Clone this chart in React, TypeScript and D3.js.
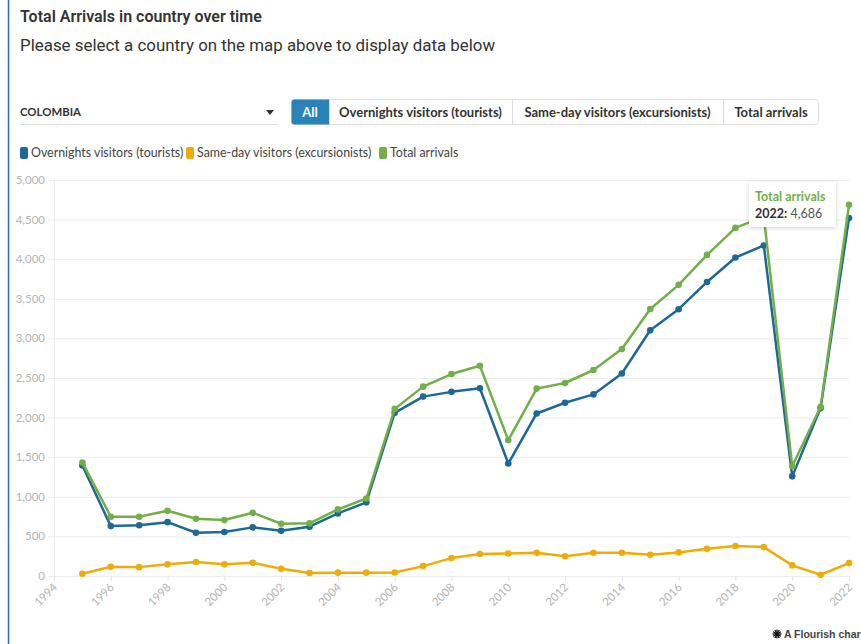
import React from "react";
import * as d3 from "d3";

const years = [1995, 1996, 1997, 1998, 1999, 2000, 2001, 2002, 2003, 2004, 2005, 2006, 2007, 2008, 2009, 2010, 2011, 2012, 2013, 2014, 2015, 2016, 2017, 2018, 2019, 2020, 2021, 2022];
const overnights = [1395, 630, 640, 680, 546, 555, 614, 570, 622, 790, 930, 2060, 2265, 2325, 2370, 1420, 2052, 2187, 2293, 2557, 3103, 3369, 3713, 4021, 4173, 1258, 2120, 4521];
const sameDay = [29, 117, 112, 147, 176, 147, 168, 92, 37, 42, 42, 45, 125, 226, 277, 285, 294, 248, 294, 294, 269, 298, 345, 378, 365, 134, 16, 163];
const totalArrivals = [1434, 748, 748, 823, 723, 706, 798, 660, 665, 841, 978, 2110, 2391, 2550, 2654, 1716, 2366, 2437, 2601, 2867, 3372, 3676, 4054, 4395, 4538, 1386, 2136, 4686];

const seriesNames = ["Overnights visitors (tourists)", "Same-day visitors (excursionists)", "Total arrivals"];
const seriesColors = ["#1D6996", "#EDAD08", "#73AF48"];
const yTicks = [0, 500, 1000, 1500, 2000, 2500, 3000, 3500, 4000, 4500, 5000];
const xTicks = [1994, 1996, 1998, 2000, 2002, 2004, 2006, 2008, 2010, 2012, 2014, 2016, 2018, 2020, 2022];
const buttons = ["All", "Overnights visitors (tourists)", "Same-day visitors (excursionists)", "Total arrivals"];

const FONT = "Lato, 'Source Sans Pro', sans-serif";

export default function App() {
  const x = d3.scaleLinear().domain([1994, 2022]).range([54, 849]);
  const y = d3.scaleLinear().domain([0, 5000]).range([576, 180]);
  const fmt = d3.format(",");
  const data = [overnights, sameDay, totalArrivals];
  const order = [1, 0, 2];
  const line = d3
    .line<number>()
    .x((_, i) => x(years[i]))
    .y((v) => y(v));

  const btnX = [291, 329, 512, 723, 819];
  const lastIdx = years.length - 1;

  return (
    <svg
      width={861}
      height={644}
      style={{ position: "absolute", left: 0, top: 0, background: "#fff" }}
      fontFamily={FONT}
    >
      <defs>
        <filter id="shadow" x="-20%" y="-30%" width="140%" height="160%">
          <feDropShadow dx="0" dy="1" stdDeviation="2" floodColor="#000" floodOpacity="0.18" />
        </filter>
      </defs>
      <rect x={0} y={0} width={861} height={644} fill="#fff" />
      <line x1={8.5} x2={8.5} y1={0} y2={644} stroke="#2b6cb8" strokeWidth={1.5} />

      <text x={20} y={22} fontFamily="Roboto, sans-serif" fontWeight={600} fontSize={16} fill="#333">
        Total Arrivals in country over time
      </text>
      <text x={20} y={51} fontFamily="Roboto, sans-serif" fontSize={16.9} fill="#333">
        Please select a country on the map above to display data below
      </text>

      {/* dropdown */}
      <text x={20} y={116} fontSize={11.4} fontWeight={700} fill="#333">
        COLOMBIA
      </text>
      <line x1={20} x2={278} y1={124.5} y2={124.5} stroke="#ddd" />
      <path d="M266,110 L274,110 L270,115 Z" fill="#333" />

      {/* buttons */}
      <rect x={291.5} y={99.5} width={527} height={25} rx={3} fill="#fff" stroke="#ddd" />
      {buttons.map((b, i) => (
        <g key={b}>
          {i === 0 ? (
            <path
              d={`M${btnX[0] + 3.5},99.5 L${btnX[1]},99.5 L${btnX[1]},124.5 L${btnX[0] + 3.5},124.5 Q${btnX[0] + 0.5},124.5 ${btnX[0] + 0.5},121.5 L${btnX[0] + 0.5},102.5 Q${btnX[0] + 0.5},99.5 ${btnX[0] + 3.5},99.5 Z`}
              fill="#2A83B8"
            />
          ) : (
            <line x1={btnX[i] + 0.5} x2={btnX[i] + 0.5} y1={100} y2={124} stroke="#ddd" />
          )}
          <text
            x={(btnX[i] + btnX[i + 1]) / 2}
            y={116.5}
            textAnchor="middle"
            fontSize={13}
            fontWeight={700}
            fill={i === 0 ? "#fff" : "#333"}
          >
            {b}
          </text>
        </g>
      ))}

      {/* legend */}
      {(() => {
        let lx = 20;
        const widths = [166, 193, 80];
        return seriesNames.map((n, i) => {
          const gx = lx;
          lx += widths[i];
          return (
            <g key={n}>
              <rect x={gx} y={147} width={8} height={12} rx={2} fill={seriesColors[i]} />
              <text x={gx + 11} y={157} fontSize={12.4} fill="#444">
                {n}
              </text>
            </g>
          );
        });
      })()}

      {/* grid */}
      {yTicks.map((t) => (
        <g key={t}>
          <line x1={48} x2={849} y1={y(t) + 0.5} y2={y(t) + 0.5} stroke="#ececec" />
          <text x={45} y={y(t) + 4} textAnchor="end" fontSize={11.5} fill="#b5b5b5">
            {fmt(t)}
          </text>
        </g>
      ))}
      <line x1={54.5} x2={54.5} y1={180} y2={581} stroke="#ececec" />
      {xTicks.map((t) => (
        <g key={t}>
          <line x1={x(t) + 0.5} x2={x(t) + 0.5} y1={576} y2={581} stroke="#e4e4e4" />
          <text
            transform={`translate(${x(t) + 4},${588}) rotate(-45)`}
            textAnchor="end"
            fontSize={11.5}
            fill="#b5b5b5"
          >
            {t}
          </text>
        </g>
      ))}

      {/* series */}
      {order.map((s) => (
        <g key={s}>
          <path d={line(data[s]) || ""} fill="none" stroke={seriesColors[s]} strokeWidth={2.5} strokeLinejoin="round" />
          {data[s].map((v, i) => (
            <circle key={i} cx={x(years[i])} cy={y(v)} r={3.3} fill={seriesColors[s]} />
          ))}
        </g>
      ))}

      {/* tooltip */}
      <g filter="url(#shadow)">
        <rect x={749} y={182} width={87} height={45} fill="#fff" />
      </g>
      <text x={755} y={201} fontSize={12.5} fontWeight={700} fill="#73AF48">
        Total arrivals
      </text>
      <text x={755} y={218} fontSize={12.5} fill="#555">
        <tspan fontWeight={700} fill="#333">
          {years[lastIdx]}:
        </tspan>{" "}
        {fmt(totalArrivals[lastIdx])}
      </text>

      {/* Flourish credit */}
      <g transform="translate(777,634)" stroke="#111" strokeWidth={1.3}>
        {[0, 30, 60, 90, 120, 150].map((a) => (
          <line
            key={a}
            x1={-4.5 * Math.cos((a * Math.PI) / 180)}
            y1={-4.5 * Math.sin((a * Math.PI) / 180)}
            x2={4.5 * Math.cos((a * Math.PI) / 180)}
            y2={4.5 * Math.sin((a * Math.PI) / 180)}
          />
        ))}
      </g>
      <text x={784} y={638} fontFamily="'Liberation Sans', Arial, sans-serif" fontWeight={700} fontSize={10.5} fill="#444">
        A Flourish chart
      </text>
    </svg>
  );
}
